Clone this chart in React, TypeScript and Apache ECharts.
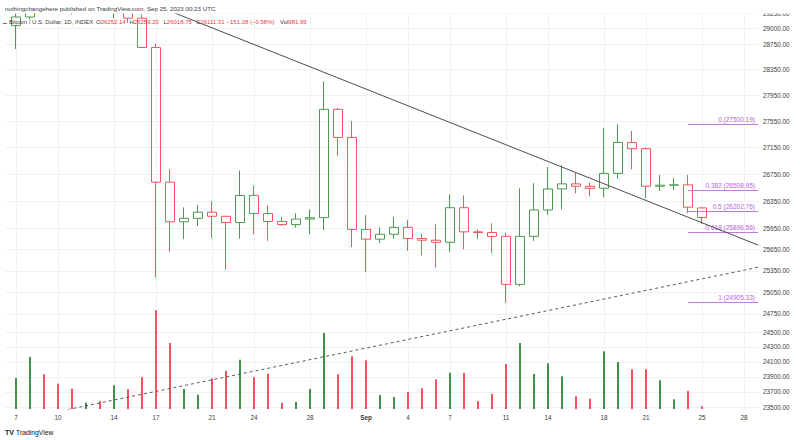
import React, { useEffect, useRef } from 'react';
import * as echarts from 'echarts';

// Day index 0 = Aug 7, 2023 (daily candles, BTC/USD INDEX)
const opens = [29050, 29190, 29770, 29580, 29440, 29400, 29420, 29280, 29410, 29170, 28700, 26630, 26050, 26100, 26190, 26130, 26040, 26435, 26170, 26055, 26010, 26090, 26110, 27730, 27300, 25940, 25800, 25870, 25970, 25810, 25785, 25755, 26255, 25905, 25895, 25840, 25160, 25840, 26222, 26530, 26605, 26570, 26540, 26760, 27225, 27130, 26570, 26585, 26590, 26252.14];
const closes = [29190, 29770, 29580, 29440, 29400, 29420, 29280, 29410, 29170, 28700, 26630, 26050, 26100, 26190, 26130, 26040, 26435, 26170, 26055, 26010, 26090, 26110, 27730, 27300, 25940, 25800, 25870, 25970, 25810, 25785, 25755, 26255, 25905, 25895, 25840, 25160, 25840, 26222, 26530, 26605, 26570, 26540, 26760, 27225, 27130, 26570, 26585, 26590, 26262.59, 26111.31];
const lows = [28675, 29150, 29360, 29330, 29230, 29360, 29260, 29170, 29100, 28690, 25260, 25620, 25800, 25990, 25820, 25370, 25805, 25870, 25775, 25990, 25965, 25870, 25930, 27020, 25685, 25330, 25745, 25805, 25635, 25570, 25395, 25615, 25655, 25805, 25605, 24905.33, 25135, 25775, 26150, 26230, 26465, 26420, 26410, 26680, 26820, 26395, 26500, 26515, 26175, 26018.75];
const highs = [29245, 30180, 30130, 29700, 29540, 29480, 29450, 29670, 29450, 29230, 28760, 26820, 26260, 26295, 26350, 26135, 26805, 26575, 26290, 26120, 26175, 26230, 28165, 27750, 27550, 26145, 25970, 26120, 26080, 25880, 26020, 26450, 26435, 25940, 26030, 25890, 26540, 26615, 26855, 26880, 26770, 26625, 27445, 27500.19, 27400, 27150, 26735, 26690, 26735, 26259.2];
const volumes = [11160, 18720, 12490, 9110, 7310, 2270, 2770, 8530, 7090, 11410, 35530, 23760, 7200, 5150, 11050, 13790, 17750, 11410, 12710, 2270, 2520, 7200, 27360, 12490, 18970, 17530, 5040, 4320, 6120, 7450, 10690, 13070, 12960, 2770, 5400, 16200, 23760, 12600, 16450, 11770, 4570, 3710, 20770, 16920, 14290, 14290, 10330, 3490, 6480, 981.99];

const xTickDays = [0, 3, 7, 10, 14, 17, 21, 25, 28, 31, 35, 38, 42, 45, 49, 52];
const xTickLabels = ['7', '10', '14', '17', '21', '24', '28', 'Sep', '4', '7', '11', '14', '18', '21', '25', '28'];
const yTickPrices = [29250, 29000, 28750, 28350, 27950, 27550, 27150, 26750, 26350, 25950, 25650, 25350, 25050, 24750, 24500, 24300, 24100, 23900, 23700, 23500];

const fibRatios = [0, 0.382, 0.5, 0.618, 1];
const fibHigh = 27500.19;
const fibLow = 24905.33;
const fibStartDay = 48;

const trendSolid = [[10, 29376], [53, 25716]];
const trendDashed = [[2, 23406], [53, 25400]];

const noteNames = ['K1', 'K2', 'K3'];
const noteDays = [43.3, 45.3, 48.3];
const notePrices = [26574, 26270, 26066];

const X_MIN = -0.786;
const X_MAX = 53.0;
const PRICE_MIN = 23477;
const PRICE_MAX = 29270.5;
const VOL_MAX = 142920;

const UP = '#4c9a52';
const DOWN = '#f7525f';
const VOL_UP = '#3f9145';
const VOL_DOWN = '#f5505c';
const FIB = '#c27bd6';
const FONT = 'Liberation Sans, Arial, sans-serif';
const TXT = '#3b3b3b';

const ln = Math.log;

export default function App() {
  const ref = useRef<HTMLDivElement>(null);
  useEffect(() => {
    const chart = echarts.init(ref.current!, null, { renderer: 'svg' });
    const n = closes.length;
    const last = n - 1;
    const candleData = opens.map((o, i) => [i, ln(o), ln(closes[i]), ln(lows[i]), ln(highs[i])]);
    const volData = volumes.map((v, i) => ({
      value: [i, v],
      itemStyle: { color: closes[i] >= opens[i] ? VOL_UP : VOL_DOWN },
    }));
    const trunc2 = (v: number) => (Math.floor(v * 100 + 1e-6) / 100).toFixed(2);
    const fibLines = fibRatios.map((r) => {
      const v = fibHigh - r * (fibHigh - fibLow);
      return [
        {
          coord: [fibStartDay, ln(v)],
          lineStyle: { color: FIB, width: 1.2, type: 'solid' },
          label: {
            show: true,
            position: 'insideEndTop',
            distance: [3, 1.5],
            formatter: `${r} (${trunc2(v)})`,
            color: '#b565cf',
            fontSize: 6.5,
            fontFamily: FONT,
          },
        },
        { coord: [X_MAX, ln(v)] },
      ];
    });
    const lastClose = closes[last];
    const change = lastClose - closes[last - 1];
    const pct = (change / closes[last - 1]) * 100;
    const sgn = (v: number) => (v < 0 ? '\u2212' : '+') + Math.abs(v).toFixed(2);
    const HF = 6.0;

    const headerItem = (x: number, label: string, value: string) => ({
      type: 'text',
      x,
      y: 22,
      z: 101,
      style: {
        text: `{l|${label}}{v|${value}}`,
        verticalAlign: 'middle',
        rich: {
          l: { fill: TXT, fontSize: HF, fontFamily: FONT },
          v: { fill: '#f23645', fontSize: HF, fontFamily: FONT },
        },
      },
    });

    const option: any = {
      animation: false,
      backgroundColor: '#ffffff',
      grid: { left: 5, right: 42, top: 12, bottom: 31, outerBoundsMode: 'none', containLabel: false },
      xAxis: {
        type: 'value',
        min: X_MIN,
        max: X_MAX,
        axisLine: { show: false },
        axisTick: { show: false, customValues: xTickDays },
        splitLine: { show: true, lineStyle: { color: '#f0f1f4', width: 1 } },
        axisLabel: {
          customValues: xTickDays,
          margin: 5,
          fontSize: 6.4,
          fontFamily: FONT,
          color: TXT,
          formatter: (v: number) => {
            const i = xTickDays.indexOf(Math.round(v));
            const t = i >= 0 ? xTickLabels[i] : '';
            return t === 'Sep' ? '{b|Sep}' : t;
          },
          rich: { b: { fontWeight: 'bold', fontSize: 6.4, fontFamily: FONT, color: TXT } },
        },
      },
      yAxis: [
        {
          type: 'value',
          position: 'right',
          min: ln(PRICE_MIN),
          max: ln(PRICE_MAX),
          axisLine: { show: false },
          axisTick: { show: false, customValues: yTickPrices.map(ln) },
          splitLine: { show: true, lineStyle: { color: '#f0f1f4', width: 1 } },
          axisLabel: {
            customValues: yTickPrices.map(ln),
            margin: 5,
            fontSize: 6.4,
            fontFamily: FONT,
            color: TXT,
            formatter: (v: number) => Math.exp(v).toFixed(2),
          },
        },
        {
          type: 'value',
          min: 0,
          max: VOL_MAX,
          show: false,
          splitLine: { show: false },
        },
      ],
      series: [
        {
          type: 'bar',
          yAxisIndex: 1,
          data: volData,
          barWidth: 2,
          silent: true,
          z: 1,
        },
        {
          type: 'candlestick',
          yAxisIndex: 0,
          data: candleData,
          barWidth: 10,
          silent: true,
          z: 3,
          itemStyle: {
            color: 'rgba(255,255,255,0)',
            color0: 'rgba(255,255,255,0)',
            borderColor: UP,
            borderColor0: DOWN,
            borderWidth: 1,
          },
          markLine: {
            silent: true,
            symbol: ['none', 'none'],
            animation: false,
            data: [
              ...fibLines,
              {
                yAxis: ln(lastClose),
                lineStyle: { opacity: 0, width: 0 },
                label: {
                  show: true,
                  position: 'end',
                  distance: 0,
                  formatter: lastClose.toFixed(2),
                  backgroundColor: '#fbc6ca',
                  color: '#2a2a2a',
                  padding: [2, 5, 2, 5],
                  fontSize: 6.4,
                  fontFamily: FONT,
                },
              },
            ],
          },
        },
        {
          type: 'line',
          data: trendSolid.map(([d, p]) => [d, ln(p)]),
          symbol: 'none',
          silent: true,
          z: 5,
          lineStyle: { color: '#4d4d4d', width: 1 },
        },
        {
          type: 'line',
          data: trendDashed.map(([d, p]) => [d, ln(p)]),
          symbol: 'none',
          silent: true,
          z: 5,
          lineStyle: { color: '#5a5a5a', width: 1, type: [3, 3] },
        },
        {
          type: 'scatter',
          data: noteDays.map((d, i) => ({ value: [d, ln(notePrices[i])], name: noteNames[i] })),
          symbolSize: 0.1,
          silent: true,
          z: 6,
          itemStyle: { opacity: 0 },
          label: {
            show: true,
            position: 'inside',
            formatter: (p: any) => p.name,
            color: '#333',
            fontSize: 6.4,
            fontFamily: FONT,
          },
        },
      ],
      graphic: [
        { type: 'rect', shape: { x: 0, y: 0, width: 800, height: 13.5 }, style: { fill: '#ffffff' }, z: 100 },
        {
          type: 'text',
          x: 5,
          y: 8,
          z: 101,
          style: {
            text: 'nothingchangehere published on TradingView.com, Sep 25, 2023 00:23 UTC',
            fill: TXT,
            fontSize: 6.2,
            fontFamily: FONT,
            verticalAlign: 'middle',
          },
        },
        { type: 'rect', shape: { x: 3, y: 23, width: 4, height: 1 }, style: { fill: '#f23645' }, z: 101 },
        {
          type: 'text',
          x: 9,
          y: 22,
          z: 101,
          style: { text: 'Bitcoin / U.S. Dollar, 1D, INDEX', fill: TXT, fontSize: HF, fontFamily: FONT, verticalAlign: 'middle' },
        },
        headerItem(96, 'O', opens[last].toFixed(2)),
        headerItem(129.5, 'H', highs[last].toFixed(2)),
        headerItem(163.5, 'L', lows[last].toFixed(2)),
        headerItem(196, 'C', closes[last].toFixed(2)),
        {
          type: 'text',
          x: 226.5,
          y: 22,
          z: 101,
          style: {
            text: `${sgn(change)} (${sgn(pct)}%)`,
            fill: '#f23645',
            fontSize: HF,
            fontFamily: FONT,
            verticalAlign: 'middle',
          },
        },
        headerItem(280, 'Vol', volumes[last].toFixed(2)),
        {
          type: 'text',
          x: 5,
          y: 432,
          z: 101,
          style: { text: 'TV', fill: '#131722', fontSize: 7, fontWeight: 'bold', fontFamily: FONT, verticalAlign: 'middle' },
        },
        {
          type: 'text',
          x: 16,
          y: 432,
          z: 101,
          style: { text: 'TradingView', fill: '#131722', fontSize: 6.8, fontFamily: FONT, verticalAlign: 'middle' },
        },
      ],
    };
    chart.setOption(option);
    return () => chart.dispose();
  }, []);
  return <div ref={ref} style={{ position: 'fixed', left: 0, top: 0, width: 800, height: 440 }} />;
}
